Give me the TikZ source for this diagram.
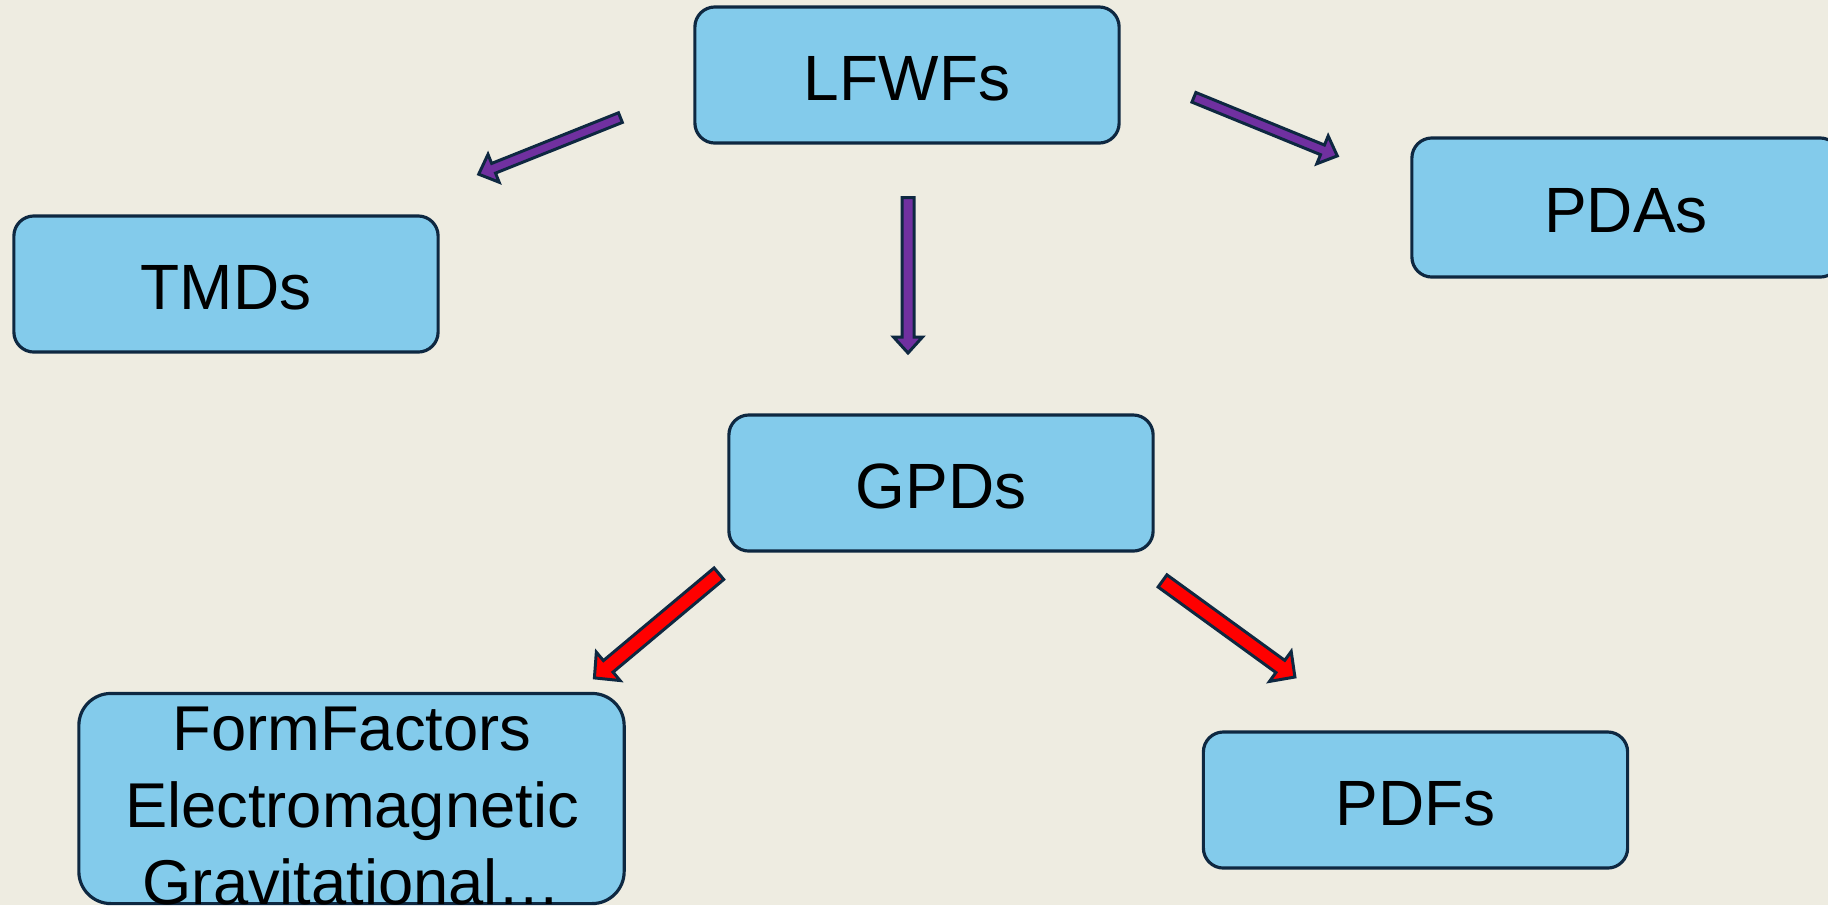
\documentclass[tikz,border=0pt]{standalone}
\usepackage{fontspec}
\setmainfont{Liberation Sans}
\usetikzlibrary{calc}
\definecolor{bg}{HTML}{EEECE1}
\definecolor{boxfill}{HTML}{83CBEB}
\definecolor{edge}{HTML}{0E2841}
\definecolor{arrpurple}{HTML}{7030A0}
\definecolor{arrred}{HTML}{FF0000}
\newcommand\blockarrow[6]{%
  \filldraw[#1] let \p1=($(#3)!#6!(#2)$) in
    ($(#2)!#4!90:(#3)$) -- ($(\p1)!#4!90:(#3)$) -- ($(\p1)!#5!90:(#3)$) -- (#3)
    -- ($(\p1)!#5!-90:(#3)$) -- ($(\p1)!#4!-90:(#3)$) -- ($(#2)!#4!-90:(#3)$) -- cycle;}
\tikzset{
  box/.style={draw=edge, fill=boxfill, line width=0.9pt, rounded corners=0.2cm,
    minimum width=4.24cm, minimum height=1.36cm, inner sep=0pt, align=center,
    text height=0.5cm, text depth=0pt,
    font=\fontsize{18.2pt}{22pt}\selectfont},
  boxtext/.style={inner sep=0pt, align=center, font=\fontsize{18pt}{22pt}\selectfont},
  parrow/.style={draw=edge, fill=arrpurple, line width=0.85pt, line join=miter},
  rarrow/.style={draw=edge, fill=arrred, line width=0.85pt, line join=miter},
}
\begin{document}
\begin{tikzpicture}[x=0.01cm, y=-0.01cm]
\useasboundingbox (0,0) rectangle (1828,905);
\fill[bg] (0,0) rectangle (1828,905);
\clip (0,0) rectangle (1828,905);
\node[box] (lfwfs) at (907,75) {LFWFs};
\node[box] (tmds) at (226,284) {TMDs};
\node[box, minimum width=4.28cm, minimum height=1.39cm] (pdas) at (1626,207.5) {PDAs};
\node[box] (gpds) at (941,483) {GPDs};
\node[box] (pdfs) at (1415.5,800) {PDFs};
\node[box, minimum width=5.45cm, minimum height=2.10cm, rounded corners=0.32cm] (ff) at (351.5,798.5) {};
\node[boxtext] (fftext) at (352,806) {FormFactors\\Electromagnetic\\Gravitational…};
% arrow end points
\coordinate (a1s) at (620.4,117.6); \coordinate (a1e) at (478.7,174.2);
\coordinate (a2s) at (1193.9,97.3); \coordinate (a2e) at (1337.3,155.9);
\coordinate (a3s) at (908,197.5);   \coordinate (a3e) at (908,353);
\coordinate (a4s) at (718.9,573.7); \coordinate (a4e) at (594.4,677.9);
\coordinate (a5s) at (1162.5,580.9);\coordinate (a5e) at (1294.9,677);
\blockarrow{parrow}{a1s}{a1e}{0.052cm}{0.15cm}{0.16cm}
\blockarrow{parrow}{a2s}{a2e}{0.052cm}{0.15cm}{0.16cm}
\blockarrow{parrow}{a3s}{a3e}{0.06cm}{0.145cm}{0.16cm}
\blockarrow{rarrow}{a4s}{a4e}{0.075cm}{0.185cm}{0.18cm}
\blockarrow{rarrow}{a5s}{a5e}{0.075cm}{0.185cm}{0.18cm}
\end{tikzpicture}
\end{document}
